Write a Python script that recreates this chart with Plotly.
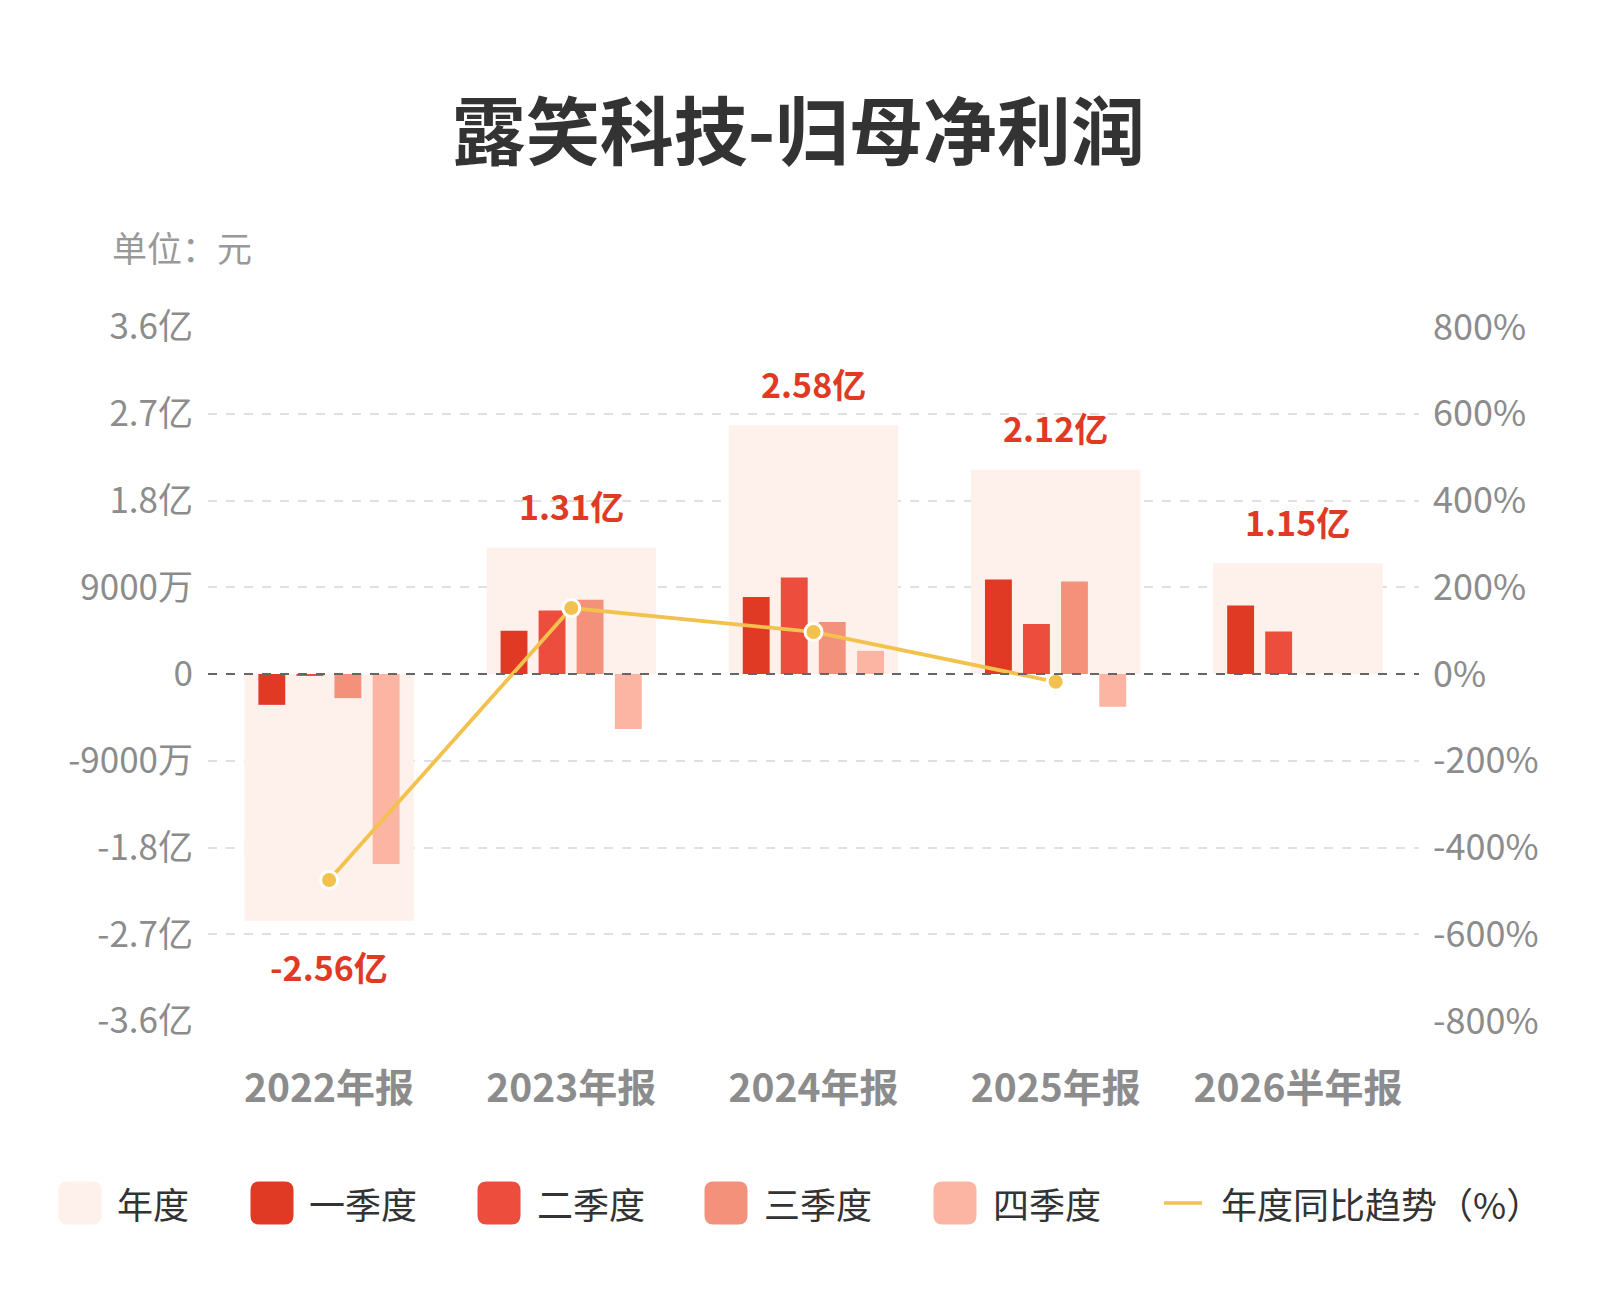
import plotly.graph_objects as go

years = ["2022年报", "2023年报", "2024年报", "2025年报", "2026半年报"]
annual = [-2.56, 1.31, 2.58, 2.12, 1.15]  # 亿元
annual_text = ["-2.56亿", "1.31亿", "2.58亿", "2.12亿", "1.15亿"]
q1 = [-0.32, 0.45, 0.80, 0.98, 0.71]
q2 = [-0.02, 0.66, 1.00, 0.52, 0.44]
q3 = [-0.25, 0.77, 0.54, 0.96, None]
q4 = [-1.97, -0.57, 0.24, -0.34, None]
yoy_years = ["2022年报", "2023年报", "2024年报", "2025年报"]
yoy = [-475, 152, 97, -18]  # %

left_ticks = [3.6, 2.7, 1.8, 0.9, 0, -0.9, -1.8, -2.7, -3.6]
left_labels = ["3.6亿", "2.7亿", "1.8亿", "9000万", "0", "-9000万", "-1.8亿", "-2.7亿", "-3.6亿"]
right_ticks = [800, 600, 400, 200, 0, -200, -400, -600, -800]
right_labels = ["800%", "600%", "400%", "200%", "0%", "-200%", "-400%", "-600%", "-800%"]

FONT = "Noto Sans CJK SC"
W, H = 1600, 1300
L, R, T, B = 200, 189, 319, 287
PW, PH = W - L - R, H - T - B

c_year = "#FEF0EB"
c_q = ["#E03A25", "#EC4D3C", "#F4917A", "#FCB4A3"]
c_line = "#F2C14E"
red = "#E03A25"
gray = "#8c8c8c"

fig = go.Figure()
fig.add_trace(go.Bar(x=years, y=annual, width=0.7, marker_color=c_year,
                     marker_line_width=0, name="年度", showlegend=False))
q_offsets = [-0.292, -0.135, 0.022, 0.18]
for i, (vals, name) in enumerate(zip([q1, q2, q3, q4], ["一季度", "二季度", "三季度", "四季度"])):
    fig.add_trace(go.Bar(x=years, y=vals, width=0.111, offset=q_offsets[i],
                         marker_color=c_q[i], marker_line_width=0,
                         name=name, showlegend=False))
fig.add_trace(go.Scatter(x=yoy_years, y=yoy, yaxis="y2", mode="lines+markers",
                         line=dict(color=c_line, width=3.8),
                         marker=dict(size=17, color=c_line, line=dict(color="white", width=3)),
                         name="年度同比趋势（%）", showlegend=False))

for x, v, t in zip(years, annual, annual_text):
    fig.add_annotation(x=x, y=v, text="<b>" + t + "</b>", showarrow=False,
                       yshift=42 if v > 0 else -46,
                       font=dict(family=FONT, size=34, color=red))

# zero line
fig.add_shape(type="line", xref="paper", yref="y", x0=0, x1=1, y0=0, y1=0,
              line=dict(color="#666666", width=2, dash="dash"), layer="above")

def px_x(p):
    return (p - L) / PW

def px_y(p):
    return (H - B - p) / PH

# legend
leg_y = 1195
items = [(72, 107, c_year, "年度"), (264, 299, c_q[0], "一季度"), (491, 527, c_q[1], "二季度"),
         (718, 754, c_q[2], "三季度"), (947, 983, c_q[3], "四季度")]
r = 9
s = 21.5
rr = (f"M {-s + r},{-s} L {s - r},{-s} Q {s},{-s} {s},{-s + r} L {s},{s - r} Q {s},{s} {s - r},{s} "
      f"L {-s + r},{s} Q {-s},{s} {-s},{s - r} L {-s},{-s + r} Q {-s},{-s} {-s + r},{-s} Z")
for cx, tx, col, label in items:
    fig.add_shape(type="path", xref="paper", yref="paper", xsizemode="pixel", ysizemode="pixel",
                  xanchor=px_x(cx), yanchor=px_y(leg_y), path=rr,
                  fillcolor=col, line=dict(width=0))
    fig.add_annotation(xref="paper", yref="paper", x=px_x(tx), y=px_y(leg_y), text=label,
                       showarrow=False, xanchor="left", yanchor="middle",
                       font=dict(family=FONT, size=36, color="#333333"))
fig.add_shape(type="line", xref="paper", yref="paper", x0=px_x(1156), x1=px_x(1194),
              y0=px_y(leg_y), y1=px_y(leg_y), line=dict(color=c_line, width=3.5))
fig.add_annotation(xref="paper", yref="paper", x=px_x(1211), y=px_y(leg_y), text="年度同比趋势（%）",
                   showarrow=False, xanchor="left", yanchor="middle",
                   font=dict(family=FONT, size=36, color="#333333"))

fig.add_annotation(xref="paper", yref="paper", x=px_x(102), y=px_y(238), text="单位：元",
                   showarrow=False, xanchor="left", yanchor="middle",
                   font=dict(family=FONT, size=35, color="#999999"))

fig.update_layout(
    width=W, height=H,
    margin=dict(l=L, r=R, t=T, b=B),
    paper_bgcolor="white", plot_bgcolor="white",
    barmode="overlay",
    font=dict(family=FONT),
    title=dict(text="<b>露笑科技-归母净利润</b>", x=0.494, xanchor="center", y=1 - 125 / H, yanchor="middle",
               font=dict(family=FONT, size=74, color="#333333")),
    xaxis=dict(range=[-0.5, 4.5], showgrid=False, showline=False, ticks="",
               tickmode="array", tickvals=years, ticktext=["<b>" + y + "</b>" for y in years],
               tickfont=dict(family=FONT, size=39, color=gray), ticklabelstandoff=41),
    yaxis=dict(range=[-3.6, 3.6], tickmode="array", tickvals=left_ticks, ticktext=left_labels,
               showgrid=True, gridcolor="#e0e0e0", griddash="dash", gridwidth=1.5,
               zeroline=False, showline=False, ticks="",
               tickfont=dict(family=FONT, size=35, color=gray), ticklabelstandoff=14),
    yaxis2=dict(range=[-800, 800], overlaying="y", side="right", tickmode="array",
                tickvals=right_ticks, ticktext=right_labels, showgrid=False, zeroline=False,
                showline=False, ticks="",
                tickfont=dict(family=FONT, size=36, color=gray), ticklabelstandoff=13),
)

fig.write_html("out.html")
